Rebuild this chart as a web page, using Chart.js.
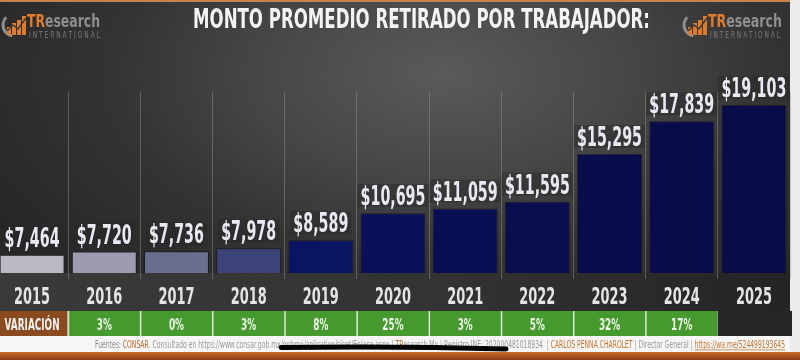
<!DOCTYPE html>
<html>
<head>
<meta charset="utf-8">
<script src="https://cdn.jsdelivr.net/npm/chart.js@4.4.1/dist/chart.umd.min.js"></script>
<style>
  html, body { margin: 0; padding: 0; }
  body { width: 800px; height: 360px; overflow: hidden; position: relative; background: #2b2b2b; }
  #bg { position: absolute; left: 0; top: 0; width: 790px; height: 336px;
        background: radial-gradient(ellipse 65% 85% at 56% 22%, #5a5a5a 0%, #474747 35%, #333 65%, #272727 100%); }
  #topline { position: absolute; left: 0; top: 0; width: 790px; height: 2px; background: #c98150; }
  #yearrow { position: absolute; left: 0; top: 273px; width: 790px; height: 38px;
             background: linear-gradient(90deg, #3a3a3a, #333 55%, #242424); }
  #foot { position: absolute; left: 0; top: 336px; width: 790px; height: 16px; background: #f6f6f6; }
  #band { position: absolute; left: 0; top: 352px; width: 800px; height: 8px;
          background: linear-gradient(180deg, #c86a2e, #8a3a14); }
  #strip { position: absolute; left: 790px; top: 0; width: 10px; height: 352px; background: #ececec; }
  #wrap { position: absolute; left: -4px; top: 0; width: 804px; height: 360px; }
</style>
</head>
<body>
<div id="bg"></div>
<div id="topline"></div>
<div id="yearrow"></div>
<div id="foot"></div>
<div id="band"></div>
<div id="strip"></div>
<div id="wrap"><canvas id="grafica"></canvas></div>
<script>
// datos
const anios = ['2015', '2016', '2017', '2018', '2019', '2020', '2021', '2022', '2023', '2024', '2025'];
const montos = [7464, 7720, 7736, 7978, 8589, 10695, 11059, 11595, 15295, 17839, 19103];
const variacion = [null, '3%', '0%', '3%', '8%', '25%', '3%', '5%', '32%', '17%', null];

const titulo = 'MONTO PROMEDIO RETIRADO POR TRABAJADOR:';
const coloresBarras = ['#b9b9c2', '#9c9cae', '#6b6d8c', '#3d4379', '#0b1462',
  '#09105a', '#080e52', '#080e50', '#080d4c', '#080d4a', '#080d48'];

const OX = 4; // el canvas empieza 4px a la izquierda de la pagina
const FUENTE = '"DejaVu Sans", sans-serif';

function fmt(v) {
  return '$' + v.toLocaleString('en-US');
}

// texto comprimido horizontalmente
function textoAngosto(ctx, txt, x, y, font, color, sx, align) {
  ctx.save();
  ctx.font = font;
  ctx.fillStyle = color;
  ctx.textAlign = align || 'center';
  ctx.textBaseline = 'alphabetic';
  ctx.translate(x, y);
  ctx.scale(sx, 1);
  ctx.fillText(txt, 0, 0);
  ctx.restore();
}

function escala(ctx, font, muestra, ancho) {
  ctx.save();
  ctx.font = font;
  const w = ctx.measureText(muestra).width;
  ctx.restore();
  return ancho / w;
}

function logo(ctx, x0, anchoTexto, anchoIntl) {
  // icono
  ctx.save();
  ctx.strokeStyle = '#8d8d8d';
  ctx.lineWidth = 3;
  ctx.beginPath();
  ctx.arc(x0 + 14, 25, 11, Math.PI * 0.55, Math.PI * 1.25);
  ctx.stroke();
  ctx.fillStyle = '#e07b2c';
  const alt = [8, 12, 15, 19];
  alt.forEach((h, k) => ctx.fillRect(x0 + 7 + k * 5, 35 - h, 4, h));
  ctx.strokeStyle = '#3a3a3a';
  ctx.lineWidth = 1.5;
  ctx.beginPath();
  ctx.moveTo(x0 + 7, 31); ctx.lineTo(x0 + 13, 25); ctx.lineTo(x0 + 18, 29); ctx.lineTo(x0 + 26, 18);
  ctx.stroke();
  ctx.restore();

  const f = 'bold 17px ' + FUENTE;
  const sx = escala(ctx, f, 'TResearch', anchoTexto);
  ctx.save();
  ctx.font = f;
  const wTR = ctx.measureText('TR').width * sx;
  ctx.restore();
  textoAngosto(ctx, 'TR', x0 + 27, 27, f, '#e27b2a', sx, 'left');
  textoAngosto(ctx, 'esearch', x0 + 27 + wTR, 27, f, '#8e8e8e', sx, 'left');
  const fi = '8px ' + FUENTE;
  const intl = 'I N T E R N A T I O N A L';
  textoAngosto(ctx, intl, x0 + 29, 38, fi, '#7c7c7c', escala(ctx, fi, intl, anchoIntl), 'left');
}

const textos = {
  id: 'textos',
  afterDraw(chart) {
    const ctx = chart.ctx;
    const xs = chart.scales.x;
    const meta = chart.getDatasetMeta(0);
    const w = xs.getPixelForValue(1) - xs.getPixelForValue(0);

    // etiquetas de valor
    const fVal = 'bold 26px ' + FUENTE;
    const sxVal = escala(ctx, fVal, '$7,464', 55);
    meta.data.forEach((bar, i) => {
      const t = fmt(montos[i]);
      ctx.save();
      ctx.font = fVal;
      const tw = ctx.measureText(t).width * sxVal;
      ctx.restore();
      const base = bar.y - 8;
      ctx.fillStyle = 'rgba(40,40,40,0.45)';
      ctx.fillRect(bar.x - tw / 2 - 3, base - 21, tw + 6, 23);
      textoAngosto(ctx, t, bar.x, base, fVal, '#e9e9f3', sxVal);
    });

    // años
    const fAnio = 'bold 23px ' + FUENTE;
    const sxAnio = escala(ctx, fAnio, '2015', 36);
    anios.forEach((a, i) => {
      textoAngosto(ctx, a, xs.getPixelForValue(i), 304, fAnio, '#e4e4e4', sxAnio);
    });

    // fila de variacion
    ctx.fillStyle = '#dfe8d8';
    ctx.fillRect(xs.getPixelForValue(0) + w / 2 - 1, 311, w * 9 + 1, 25);
    const fVar = 'bold 16px ' + FUENTE;
    const sxVar = escala(ctx, fVar, 'VARIACIÓN', 55);
    anios.forEach((a, i) => {
      const cx = xs.getPixelForValue(i);
      const l = cx - w / 2;
      if (i === 0) {
        ctx.fillStyle = '#8a4a1f';
        ctx.fillRect(l, 311, w - 1, 25);
        textoAngosto(ctx, 'VARIACIÓN', cx, 330, fVar, '#f2f2f2', sxVar);
      } else if (variacion[i]) {
        ctx.fillStyle = '#46992d';
        ctx.fillRect(l + 1, 311, w - 1.5, 25);
        textoAngosto(ctx, variacion[i], cx, 330, fVar, '#eef5ea', sxVar);
      } else {
        ctx.fillStyle = '#262626';
        ctx.fillRect(l, 311, w + 2, 25);
      }
    });

    // elementos fijos de la pagina
    ctx.save();
    ctx.translate(OX, 0);

    const fTit = 'bold 26px ' + FUENTE;
    textoAngosto(ctx, titulo, 421.5, 28, fTit, '#f4f4f4', escala(ctx, fTit, titulo, 457));

    logo(ctx, 0, 73, 71);
    logo(ctx, 681, 74, 70);

    // pie
    const partes = [
      ['Fuentes: ', '#8a8a8a'], ['CONSAR', '#c0692e'],
      ['. Consultado en https://www.consar.gob.mx/gobmx/aplicativo/siset/Enlace.aspx | ', '#9a9a9a'],
      ['TR', '#c0692e'], ['esearch.Mx | Registro INE: 202000481018934  | ', '#9a9a9a'],
      ['CARLOS PENNA CHAROLET', '#c8742e'], [' | Director General | ', '#9a9a9a'],
      ['https://wa.me/524499193645', '#c8742e']
    ];
    const fPie = '10px ' + FUENTE;
    ctx.font = fPie;
    const total = partes.reduce((s, p) => s + ctx.measureText(p[0]).width, 0);
    const sxPie = 690 / total;
    let x = 95;
    partes.forEach((p, k) => {
      const pw = ctx.measureText(p[0]).width * sxPie;
      textoAngosto(ctx, p[0], x, 348, fPie, p[1], sxPie, 'left');
      if (k === partes.length - 1) {
        ctx.fillStyle = p[1];
        ctx.fillRect(x, 349.5, pw, 0.8);
      }
      x += pw;
    });

    // tachado negro
    ctx.strokeStyle = '#050505';
    ctx.lineWidth = 5;
    ctx.lineCap = 'round';
    ctx.beginPath();
    ctx.moveTo(281, 347.5);
    ctx.quadraticCurveTo(400, 346, 506, 349);
    ctx.stroke();
    ctx.restore();
  }
};

const ctx = document.getElementById('grafica').getContext('2d');
new Chart(ctx, {
  type: 'bar',
  data: {
    labels: anios,
    datasets: [{
      data: montos,
      backgroundColor: coloresBarras,
      borderColor: 'rgba(18,18,28,0.7)',
      borderWidth: 1,
      barPercentage: 0.9,
      categoryPercentage: 1
    }]
  },
  options: {
    responsive: true,
    maintainAspectRatio: false,
    animation: false,
    layout: { padding: { top: 92, bottom: 87, left: 0, right: 10 } },
    plugins: {
      legend: { display: false },
      tooltip: { enabled: false }
    },
    scales: {
      x: {
        offset: true,
        grid: { offset: true, color: 'rgba(150,150,150,0.45)', lineWidth: 1, tickLength: 6 },
        border: { display: false },
        ticks: { display: false },
        afterFit(s) { s.height = 0; }
      },
      y: { display: false, min: 6050, max: 20114 }
    }
  },
  plugins: [textos]
});
</script>
</body>
</html>
